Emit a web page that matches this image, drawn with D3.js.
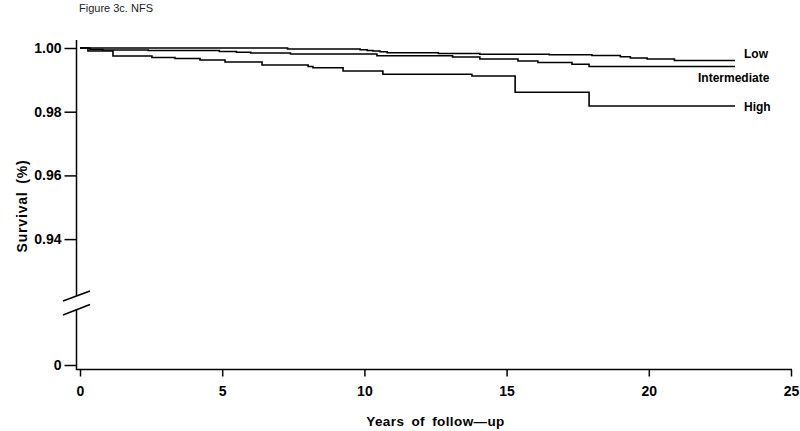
<!DOCTYPE html>
<html><head><meta charset="utf-8">
<script src="https://cdn.jsdelivr.net/npm/d3@7"></script>
<style>body{margin:0;background:#fff}svg{display:block}</style>
</head><body>
<svg id="c" width="800" height="431"></svg>
<script>
const title = "Figure 3c. NFS";
const xTicks = [0, 5, 10, 15, 20, 25];
const yTicks = [0, 0.94, 0.96, 0.98, 1.00];
const yTickLabels = ["0", "0.94", "0.96", "0.98", "1.00"];
const seriesNames = ["Low", "Intermediate", "High"];

const lowTimes = [0, 7.3, 9.85, 10.1, 10.3, 10.55, 10.8, 12.6, 14.06, 16.5, 18.0, 19.0, 19.35, 19.94, 20.9, 23.03];
const lowSurv  = [1.0, 0.99969, 0.99943, 0.99921, 0.99906, 0.99884, 0.99852, 0.99827, 0.99805, 0.99786, 0.99764, 0.99727, 0.99686, 0.99655, 0.99608, 0.99608];

const intTimes = [0, 0.35, 0.8, 2.4, 4.9, 5.5, 6.0, 7.4, 10.44, 13.1, 14.06, 15.4, 16.1, 17.3, 17.9, 23.03];
const intSurv  = [1.0, 0.99953, 0.99937, 0.99921, 0.99890, 0.99865, 0.99843, 0.99812, 0.99758, 0.99717, 0.99654, 0.99592, 0.99545, 0.99488, 0.99419, 0.99419];

const highTimes = [0, 0.28, 1.16, 2.53, 3.34, 4.22, 5.10, 6.40, 8.02, 8.19, 9.25, 10.65, 13.78, 15.30, 17.90, 23.03];
const highSurv  = [1.0, 0.99906, 0.99749, 0.99702, 0.99670, 0.99623, 0.99560, 0.99466, 0.99419, 0.99381, 0.99280, 0.99174, 0.99121, 0.98609, 0.98179, 0.98179];

const svg = d3.select("#c");
const font = "'Liberation Sans', Arial, Helvetica, sans-serif";

const x = d3.scaleLinear().domain([0, 25]).range([80, 791]);
const y = d3.scaleLinear().domain([0, 0.92, 1.0]).range([365, 302.8, 48]);
const axisX = 76.5, axisY = 369.5;

// title
svg.append("text").attr("x", 79).attr("y", 12).attr("font-family", font)
  .attr("font-size", 11).attr("fill", "#222").text(title);

// y axis
const ya = svg.append("g").attr("transform", `translate(${axisX},0)`)
  .call(d3.axisLeft(y).tickValues(yTicks).tickSize(12).tickPadding(3)
    .tickFormat((d, i) => yTickLabels[i]));
ya.select(".domain").remove();
ya.selectAll("line").attr("stroke", "#000").attr("stroke-width", 1.5);
ya.selectAll("text").attr("font-family", font).attr("font-size", 14)
  .attr("font-weight", "bold").attr("fill", "#000");

// y axis line with break
svg.append("line").attr("x1", axisX).attr("x2", axisX).attr("y1", 40).attr("y2", 296)
  .attr("stroke", "#000").attr("stroke-width", 1.5);
svg.append("line").attr("x1", axisX).attr("x2", axisX).attr("y1", 309.5).attr("y2", axisY)
  .attr("stroke", "#000").attr("stroke-width", 1.5);
svg.append("line").attr("x1", 63).attr("y1", 301).attr("x2", 90).attr("y2", 291)
  .attr("stroke", "#000").attr("stroke-width", 1.5);
svg.append("line").attr("x1", 63).attr("y1", 315).attr("x2", 90).attr("y2", 304.5)
  .attr("stroke", "#000").attr("stroke-width", 1.5);

// x axis
const xa = svg.append("g").attr("transform", `translate(0,${axisY})`)
  .call(d3.axisBottom(x).tickValues(xTicks).tickSize(7).tickPadding(10).tickFormat(d3.format("d")));
xa.select(".domain").remove();
xa.selectAll("line").attr("stroke", "#000").attr("stroke-width", 1.5);
xa.selectAll("text").attr("font-family", font).attr("font-size", 14)
  .attr("font-weight", "bold").attr("fill", "#000");
svg.append("line").attr("x1", axisX - 0.75).attr("x2", 792).attr("y1", axisY).attr("y2", axisY)
  .attr("stroke", "#000").attr("stroke-width", 1.5);

// axis titles
svg.append("text").attr("x", 435.5).attr("y", 426).attr("text-anchor", "middle")
  .attr("font-family", font).attr("font-size", 13.5).attr("font-weight", "bold")
  .attr("letter-spacing", 0.4).attr("word-spacing", 3).text("Years of follow—up");
svg.append("text").attr("transform", "translate(27,206) rotate(-90)").attr("text-anchor", "middle")
  .attr("font-family", font).attr("font-size", 14).attr("font-weight", "bold")
  .attr("letter-spacing", 0.8).attr("word-spacing", 3).text("Survival (%)");

// curves
const series = [
  {name: seriesNames[0], t: lowTimes, s: lowSurv, lx: 744, ly: 54},
  {name: seriesNames[1], t: intTimes, s: intSurv, lx: 698, ly: 78},
  {name: seriesNames[2], t: highTimes, s: highSurv, lx: 744, ly: 107}
];
const line = d3.line().x(d => x(d[0])).y(d => y(d[1])).curve(d3.curveStepAfter);
series.forEach(sr => {
  const pts = sr.t.map((t, i) => [t, sr.s[i]]);
  svg.append("path").attr("d", line(pts)).attr("fill", "none")
    .attr("stroke", "#000").attr("stroke-width", 1.6);
  svg.append("text").attr("x", sr.lx).attr("y", sr.ly).attr("dy", "0.35em")
    .attr("font-family", font).attr("font-size", 12).attr("font-weight", "bold")
    .text(sr.name);
});
</script>
</body></html>
